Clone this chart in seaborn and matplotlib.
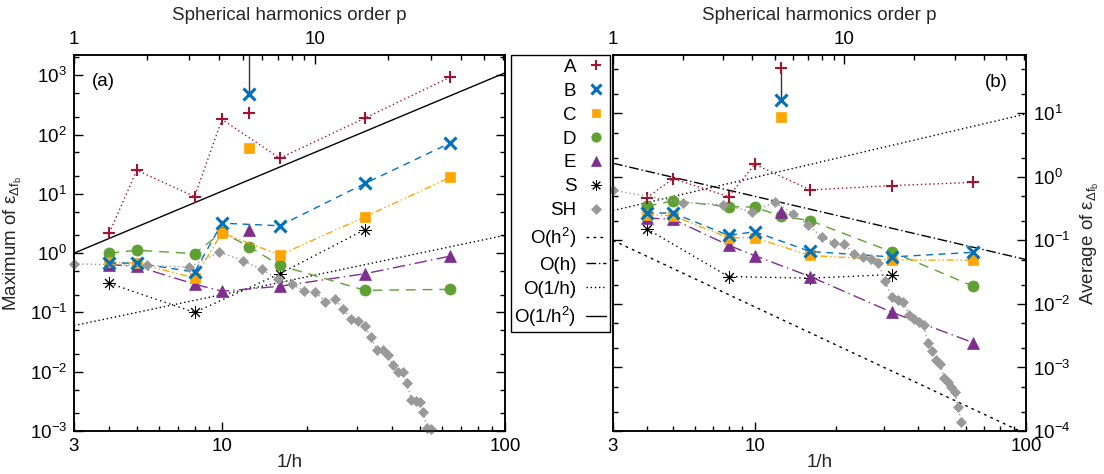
import matplotlib
matplotlib.use('Agg')
import matplotlib.pyplot as plt
import seaborn as sns
from matplotlib.lines import Line2D
from matplotlib.ticker import LogLocator, NullFormatter

# ---------------------------------------------------------------------------
# Data
# ---------------------------------------------------------------------------
inv_h = [4, 5, 8, 10, 16, 32, 64]          # 1/h for the connected runs
inv_h_D = [4, 5, 8, 10, 12.5, 16, 32, 64]  # D also has the 12.5 run on its line
inv_h_S = [4, 8, 16, 32]
inv_h_mid = 12.5                           # isolated run (no line)

# (a) maximum error
max_A = [2.2, 25, 9.0, 180, 40, 190, 930]
max_B = [0.68, 0.68, 0.48, 3.2, 2.9, 15, 72]
max_C = [0.70, 0.68, 0.38, 2.2, 0.93, 4.1, 19]
max_D = [1.0, 1.12, 0.98, 2.25, 1.28, 0.62, 0.236, 0.245]
max_E = [0.64, 0.60, 0.30, 0.228, 0.276, 0.45, 0.89]
max_S = [0.31, 0.10, 0.45, 2.5]
max_mid = {'A': 230, 'B': 480, 'C': 60, 'E': 2.5}
max_link = [480, 5000]

# (b) average error
avg_A = [0.47, 0.94, 0.49, 1.58, 0.625, 0.73, 0.82]
avg_B = [0.27, 0.27, 0.12, 0.137, 0.067, 0.055, 0.065]
avg_C = [0.255, 0.245, 0.11, 0.11, 0.058, 0.049, 0.049]
avg_D = [0.345, 0.42, 0.34, 0.335, 0.24, 0.205, 0.066, 0.019]
avg_E = [0.225, 0.215, 0.084, 0.0575, 0.027, 0.0074, 0.00245]
avg_S = [0.152, 0.027, 0.0255, 0.029]
avg_mid = {'A': 51, 'B': 16, 'C': 8.7, 'E': 0.28}
avg_link = [16, 51]

# SH, plotted against the spherical harmonics order p (top axis)
p_left = list(range(1, 31))
max_SH = [0.66, 0.62, 0.58, 1.04, 0.75, 0.53, 0.365, 0.30, 0.228, 0.22,
          0.152, 0.171, 0.116, 0.078, 0.072, 0.058, 0.0385, 0.0229, 0.0237, 0.019,
          0.0128, 0.0099, 0.0099, 0.0064, 0.00327, 0.0032, 0.0031, 0.00206, 0.00114, 0.0011]
p_right = list(range(1, 33))
avg_SH = [0.617, 0.395, 0.367, 0.28, 0.40, 0.265, 0.173, 0.113, 0.092, 0.087,
          0.062, 0.0547, 0.0516, 0.0447, 0.0229, 0.0131, 0.0116, 0.0107, 0.0068, 0.0058,
          0.0052, 0.0046, 0.0024, 0.0018, 0.00132, 0.00114, 0.000686, 0.000585, 0.0005, 0.00041,
          0.000236, 0.000137]

# reference slopes, end values at 1/h = 3 and 1/h = 100
ref_x = [3, 100]
ref_left = {'O(1/h^2)': [1.0, 1100], 'O(1/h)': [0.06, 2.0]}
ref_right = {'O(h)': [1.64, 0.05], 'O(1/h)': [0.295, 9.8], 'O(h^2)': [0.1, 9.0e-5]}

p_max = 61

# ---------------------------------------------------------------------------
# Style
# ---------------------------------------------------------------------------
sns.set_theme(style='ticks')
plt.rcParams['font.family'] = ['Liberation Sans', 'DejaVu Sans']
plt.rcParams['mathtext.fontset'] = 'custom'
plt.rcParams['mathtext.rm'] = 'Liberation Sans'
plt.rcParams['mathtext.it'] = 'Liberation Sans:italic'
plt.rcParams['mathtext.default'] = 'regular'
plt.rcParams['font.size'] = 13.5
plt.rcParams['axes.labelsize'] = 13.5
plt.rcParams['xtick.labelsize'] = 13.5
plt.rcParams['ytick.labelsize'] = 13.5
plt.rcParams['axes.linewidth'] = 1.1
plt.rcParams['axes.edgecolor'] = 'black'
plt.rcParams['text.color'] = 'black'
plt.rcParams['xtick.color'] = 'black'
plt.rcParams['ytick.color'] = 'black'

colors = {'A': '#a2142f', 'B': '#0072bd', 'C': '#ffa500', 'D': '#5fa033',
          'E': '#7e2f8e', 'S': '#000000', 'SH': '#999999'}
markers = {'A': '+', 'B': 'x', 'C': 's', 'D': 'o', 'E': '^', 'S': (8, 2, 0), 'SH': 'D'}
msize = {'A': 9, 'B': 8, 'C': 6.5, 'D': 8, 'E': 8, 'S': 9, 'SH': 5.5}
mwidth = {'A': 1.5, 'B': 2.2, 'C': 0.5, 'D': 0.5, 'E': 0.5, 'S': 0.7, 'SH': 0.5}
lstyle = {'A': (0, (1, 2)), 'B': (0, (5, 4)), 'C': (0, (5, 2, 1, 2, 1, 2)),
          'D': (0, (7, 5)), 'E': (0, (9, 3, 1, 3)), 'S': (0, (1, 2.5)), 'SH': (0, (1, 2))}
ref_style = {'O(h^2)': (0, (2, 3)), 'O(h)': (0, (7, 2, 1, 2)),
             'O(1/h)': (0, (1, 2)), 'O(1/h^2)': '-'}

fig = plt.figure(figsize=(11.04, 4.74), dpi=100)
ax1 = fig.add_axes([74 / 1104, 43 / 474, 431 / 1104, 376 / 474])
ax2 = fig.add_axes([613 / 1104, 43 / 474, 413 / 1104, 376 / 474])


def draw_series(ax, x, y, key, line=True, clip=True):
    sns.lineplot(x=x, y=y, ax=ax, color=colors[key],
                 linestyle=lstyle[key] if line else 'none', linewidth=1.0,
                 marker=markers[key], markersize=msize[key],
                 markeredgecolor=colors[key], markeredgewidth=mwidth[key],
                 sort=False, estimator=None, clip_on=clip)


def draw_panel(ax, vals, mid, link, refs):
    for name, ys in refs.items():
        sns.lineplot(x=ref_x, y=ys, ax=ax, color='black', linewidth=1.0,
                     linestyle=ref_style[name], estimator=None)
    for key in ['S', 'E', 'D', 'C', 'B', 'A']:
        x = inv_h_S if key == 'S' else (inv_h_D if key == 'D' else inv_h)
        draw_series(ax, x, vals[key], key)
    sns.lineplot(x=[inv_h_mid, inv_h_mid], y=link, ax=ax, color='#333333',
                 linewidth=1.0, estimator=None, sort=False)
    for key, v in mid.items():
        draw_series(ax, [inv_h_mid], [v], key, line=False)


def style_axes(ax, ylim):
    ax.set_xscale('log')
    ax.set_yscale('log')
    ax.set_xlim(3, 100)
    ax.set_ylim(*ylim)
    ax.set_xticks([3, 10, 100], labels=['3', '10', '100'])
    ax.set_xticks([4, 5, 6, 7, 8, 9, 20, 30, 40, 50, 60, 70, 80, 90], minor=True)
    ax.xaxis.set_minor_formatter(NullFormatter())
    ax.yaxis.set_major_locator(LogLocator(base=10, numticks=20))
    ax.yaxis.set_minor_locator(LogLocator(base=10, subs=(2, 5), numticks=20))
    ax.yaxis.set_minor_formatter(NullFormatter())
    ax.tick_params(which='both', direction='in', left=True, right=True,
                   top=False, bottom=True, width=1.0, pad=5)
    ax.tick_params(which='major', length=6.5)
    ax.tick_params(which='minor', length=3.5)
    ax.set_xlabel('1/h', labelpad=-1)

    axt = ax.twiny()
    axt.set_xscale('log')
    axt.set_xlim(1, p_max)
    axt.set_xticks([1, 10], labels=['1', '10'])
    axt.set_xticks([2, 3, 4, 5, 6, 7, 8, 9, 20, 30, 40, 50, 60], minor=True)
    axt.xaxis.set_minor_formatter(NullFormatter())
    axt.tick_params(which='both', direction='in', width=1.0, pad=5)
    axt.tick_params(which='major', length=6.5)
    axt.tick_params(which='minor', length=3.5)
    axt.set_xlabel('Spherical harmonics order p', labelpad=8)
    for sp in axt.spines.values():
        sp.set_linewidth(1.1)
    return axt


# (a) maximum
draw_panel(ax1, {'A': max_A, 'B': max_B, 'C': max_C, 'D': max_D, 'E': max_E, 'S': max_S},
           max_mid, max_link, ref_left)
ax1t = style_axes(ax1, (1e-3, 2200))
draw_series(ax1t, p_left, max_SH, 'SH', clip=False)
ax1.set_ylabel(r'Maximum of ε$_{\Delta f_b}$', labelpad=4)
ax1.text(0.042, 0.93, '(a)', transform=ax1.transAxes, ha='left', va='center')

# (b) average
draw_panel(ax2, {'A': avg_A, 'B': avg_B, 'C': avg_C, 'D': avg_D, 'E': avg_E, 'S': avg_S},
           avg_mid, avg_link, ref_right)
ax2t = style_axes(ax2, (1e-4, 83))
draw_series(ax2t, p_right, avg_SH, 'SH', clip=False)
ax2.tick_params(axis='y', labelleft=False, labelright=True)
ax2.yaxis.set_label_position('right')
ax2.set_ylabel(r'Average of ε$_{\Delta f_b}$', labelpad=6)
ax2.text(0.955, 0.928, '(b)', transform=ax2.transAxes, ha='right', va='center')

# shared legend between the panels (labels right-aligned, sample on the right)
handles = []
for key in ['A', 'B', 'C', 'D', 'E', 'S', 'SH']:
    handles.append(Line2D([], [], linestyle='none', marker=markers[key], color=colors[key],
                          markersize=msize[key] * 0.85, markeredgecolor=colors[key],
                          markeredgewidth=mwidth[key]))
for name in ['O(h^2)', 'O(h)', 'O(1/h)', 'O(1/h^2)']:
    handles.append(Line2D([], [], color='black', linewidth=1.0, linestyle=ref_style[name]))
labels = ['A', 'B', 'C', 'D', 'E', 'S', 'SH', 'O(h$^2$)', 'O(h)', 'O(1/h)', 'O(1/h$^2$)']
leg = fig.legend(handles, labels, loc='upper right', bbox_to_anchor=(610 / 1104, 1 - 55 / 474),
                 markerfirst=False, frameon=True, fancybox=False, edgecolor='black',
                 framealpha=1, handlelength=1.1, handletextpad=0.5, labelspacing=0.36,
                 borderpad=0.2, borderaxespad=0, fontsize=13.5)
leg.get_frame().set_linewidth(1.0)

fig.savefig('out.png', dpi=100)
